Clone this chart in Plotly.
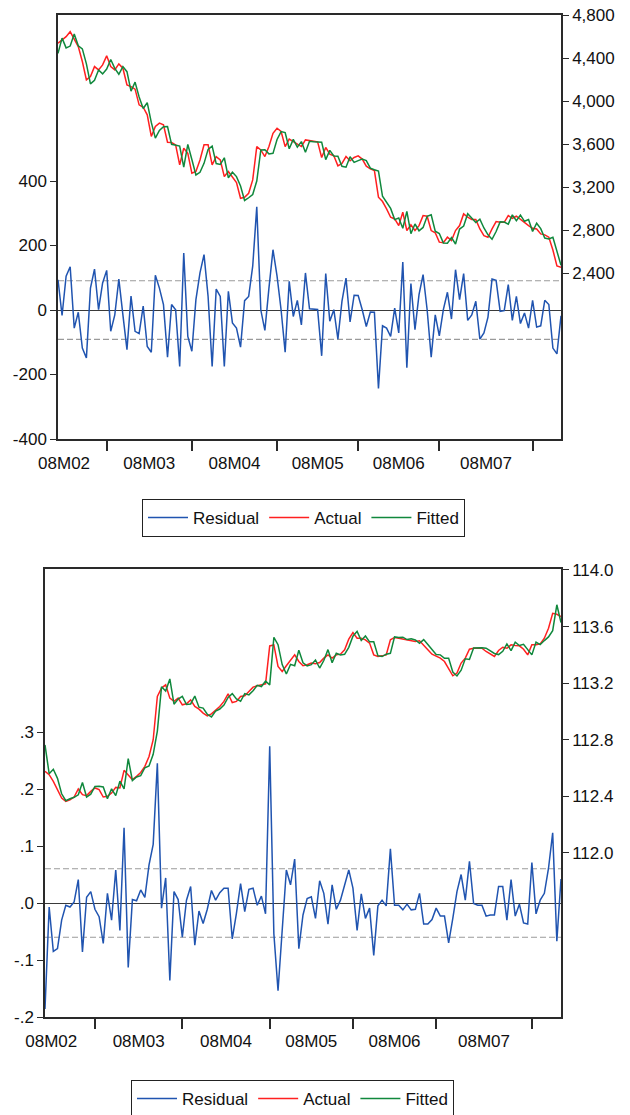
import plotly.graph_objects as go

# ---------------- data ----------------
month_labels = ["08M02", "08M03", "08M04", "08M05", "08M06", "08M07"]
month_start_idx = [12, 33, 54, 74, 94, 117]   # first observation of Mar..Aug
n_obs = 125
obs = list(range(n_obs))

# Chart 1 (index level)
resid_1 = [94, -17, 105, 134, -56, -7, -118, -149, 68, 127, 1, 84, 123, -66, -15, 96, -15, -123, 43, -66,
           -73, 12, -113, -131, 108, 68, 17, -146, 17, 1, -175, 177, -82, -128, 32, 115, 172, 42, -175, 65,
           42, -175, 58, -40, -56, -115, 29, 42, 136, 320, 0, -63, 68, 187, 105, 0, -131, 89, -20, 30,
           -46, 115, 4, 4, 2, -142, 113, -35, 1, -90, 27, 99, -37, 46, 45, 1, -51, -6, -7, -243,
           -49, -56, -82, 6, -71, 149, -179, 82, -61, 48, 110, 1, -146, -15, -80, 1, 55, -28, 125, 32,
           113, -32, -15, 27, -90, -71, -22, 96, 92, -4, -2, 79, -32, 42, -42, -9, -56, 30, -53, -49,
           30, 17, -118, -136, -18]
actual_1 = [4537, 4568, 4599, 4645, 4568, 4506, 4367, 4196, 4227, 4320, 4289, 4336, 4420, 4320, 4289, 4345,
            4305, 4150, 4134, 4110, 3964, 3942, 3871, 3670, 3763, 3794, 3778, 3617, 3614, 3592, 3406, 3561,
            3514, 3328, 3344, 3452, 3592, 3592, 3406, 3483, 3452, 3297, 3344, 3297, 3241, 3095, 3104, 3142,
            3266, 3576, 3545, 3483, 3576, 3700, 3747, 3716, 3576, 3645, 3623, 3601, 3576, 3638, 3630, 3625,
            3620, 3475, 3568, 3506, 3490, 3397, 3420, 3483, 3444, 3475, 3490, 3460, 3394, 3369, 3353, 3105,
            3065, 2997, 2919, 2903, 2841, 2965, 2795, 2848, 2795, 2841, 2934, 2928, 2795, 2774, 2687, 2681,
            2733, 2702, 2795, 2841, 2950, 2919, 2897, 2897, 2810, 2748, 2733, 2810, 2878, 2872, 2872, 2934,
            2909, 2928, 2897, 2872, 2841, 2816, 2810, 2764, 2755, 2733, 2614, 2466, 2454]
resid_sd_1 = 91

# Chart 2
resid_2 = [-0.186, -0.007, -0.085, -0.080, -0.030, -0.004, -0.007, 0.002, 0.041, -0.086,
           0.010, 0.020, -0.011, -0.024, -0.071, 0.017, -0.030, 0.058, -0.048, 0.132,
           -0.113, 0.006, 0.004, 0.023, 0.010, 0.067, 0.103, 0.245, -0.009, 0.044,
           -0.136, 0.020, 0.006, -0.060, 0.005, 0.029, -0.074, -0.014, -0.036, -0.011,
           0.022, 0.005, 0.018, 0.026, 0.026, -0.063, -0.018, 0.034, -0.015, 0.024,
           0.026, -0.004, 0.012, -0.019, 0.275, -0.054, -0.154, -0.048, 0.058, 0.032,
           0.077, -0.080, -0.021, 0.008, 0.011, -0.027, 0.039, 0.017, -0.037, 0.032,
           -0.011, 0.005, 0.032, 0.058, 0.026, -0.048, 0.016, -0.027, -0.009, -0.092,
           -0.005, 0.005, -0.005, 0.095, -0.004, -0.004, -0.012, -0.002, -0.012, -0.011,
           0.017, -0.037, -0.037, -0.029, -0.009, -0.023, -0.023, -0.070, -0.027, 0.020,
           0.050, 0.005, 0.073, -0.001, -0.004, -0.004, -0.023, -0.021, -0.021, 0.029,
           0.029, -0.030, 0.041, -0.023, -0.002, -0.035, -0.037, 0.071, -0.019, 0.005,
           0.017, 0.061, 0.123, -0.067, 0.042]
actual_2 = [112.577, 112.553, 112.506, 112.447, 112.388, 112.365, 112.376, 112.395, 112.452, 112.412,
            112.405, 112.435, 112.459, 112.447, 112.395, 112.400, 112.423, 112.463, 112.459, 112.584,
            112.553, 112.518, 112.541, 112.569, 112.612, 112.682, 112.800, 113.106, 113.165, 113.188,
            113.094, 113.071, 113.094, 113.047, 113.054, 113.082, 113.035, 113.016, 112.988, 112.969,
            112.983, 113.007, 113.035, 113.071, 113.125, 113.063, 113.071, 113.106, 113.111, 113.141,
            113.172, 113.181, 113.188, 113.195, 113.463, 113.470, 113.318, 113.283, 113.323, 113.365,
            113.400, 113.353, 113.323, 113.330, 113.342, 113.337, 113.346, 113.377, 113.400, 113.377,
            113.400, 113.405, 113.436, 113.511, 113.558, 113.518, 113.518, 113.506, 113.483, 113.400,
            113.389, 113.393, 113.400, 113.506, 113.523, 113.518, 113.513, 113.506, 113.501, 113.494,
            113.499, 113.471, 113.436, 113.405, 113.393, 113.377, 113.353, 113.306, 113.252, 113.271,
            113.342, 113.377, 113.440, 113.447, 113.447, 113.447, 113.424, 113.407, 113.389, 113.431,
            113.454, 113.447, 113.471, 113.466, 113.464, 113.440, 113.400, 113.471, 113.471, 113.478,
            113.518, 113.588, 113.694, 113.687, 113.671]
resid_sd_2 = 0.06

# fitted = actual - residual (model identity)
fitted_1 = [a - r for a, r in zip(actual_1, resid_1)]
fitted_2 = [round(a - r, 4) for a, r in zip(actual_2, resid_2)]

left_ticks_1 = [-400, -200, 0, 200, 400]
left_text_1 = ["-400", "-200", "0", "200", "400"]
right_ticks_1 = [2400, 2800, 3200, 3600, 4000, 4400, 4800]
left_ticks_2 = [-0.2, -0.1, 0.0, 0.1, 0.2, 0.3]
left_text_2 = ["-.2", "-.1", ".0", ".1", ".2", ".3"]
right_ticks_2 = [112.0, 112.4, 112.8, 113.2, 113.6, 114.0]

# ---------------- style ----------------
FONT = "Liberation Sans, Arial, sans-serif"
BLUE = "#2054b0"
RED = "#ff2020"
GREEN = "#10883c"
AXC = "#2a2a2a"
W, H = 630, 1115
LW = 1.5

label_pos = [1.5] + [(month_start_idx[k] + month_start_idx[k + 1]) / 2 for k in range(len(month_start_idx) - 1)]


def px_x(a, b):
    return [a / W, b / W]


def px_y(top, bottom):
    return [1 - bottom / H, 1 - top / H]


fig = go.Figure()


def add_panel(resid, actual, fitted, sd, xs, yls, yrs, legend):
    for s in (sd, -sd):
        fig.add_trace(go.Scatter(x=[obs[0], obs[-1]], y=[s, s], mode="lines",
                                 line=dict(color="#9a9a9a", width=1.1, dash="6px,3px"),
                                 showlegend=False, hoverinfo="skip", xaxis=xs, yaxis=yls))
    fig.add_trace(go.Scatter(x=obs, y=resid, mode="lines", name="Residual",
                             line=dict(color=BLUE, width=LW), xaxis=xs, yaxis=yls, legend=legend))
    fig.add_trace(go.Scatter(x=obs, y=actual, mode="lines", name="Actual",
                             line=dict(color=RED, width=LW), xaxis=xs, yaxis=yrs, legend=legend))
    fig.add_trace(go.Scatter(x=obs, y=fitted, mode="lines", name="Fitted",
                             line=dict(color=GREEN, width=LW), xaxis=xs, yaxis=yrs, legend=legend))


add_panel(resid_1, actual_1, fitted_1, resid_sd_1, "x", "y", "y2", "legend")
add_panel(resid_2, actual_2, fitted_2, resid_sd_2, "x2", "y3", "y4", "legend2")

tickfont = dict(family=FONT, size=17, color="#111")


def xaxis_cfg(domain, anchor):
    return dict(domain=domain, anchor=anchor, range=[obs[0], obs[-1]], automargin=False,
                showline=True, linecolor=AXC, linewidth=1.5, mirror=True,
                showgrid=False, zeroline=False, ticklabeloverflow="allow",
                tickmode="array", tickvals=label_pos, ticktext=month_labels,
                ticks="outside", ticklen=8, tickcolor="rgba(0,0,0,0)",
                tickfont=tickfont,
                minor=dict(tickmode="array", tickvals=month_start_idx, ticks="outside",
                           ticklen=10, tickwidth=1.5, tickcolor=AXC, showgrid=False))


def yleft_cfg(domain, anchor, rng, tv, tt):
    return dict(domain=domain, anchor=anchor, range=rng, automargin=False,
                showline=True, linecolor=AXC,
                linewidth=1.5, mirror=True, showgrid=False, ticklabeloverflow="allow",
                zeroline=True, zerolinecolor="#3a3a3a", zerolinewidth=1.3,
                tickmode="array", tickvals=tv, ticktext=tt,
                ticks="outside", ticklen=6, tickwidth=1.2, tickcolor=AXC, tickfont=tickfont)


def yright_cfg(overlay, anchor, rng, tv, tt):
    return dict(overlaying=overlay, anchor=anchor, side="right", range=rng, automargin=False,
                showline=True, linecolor=AXC, linewidth=1.5, showgrid=False, zeroline=False,
                ticklabeloverflow="allow",
                tickmode="array", tickvals=tv, ticktext=tt,
                ticks="outside", ticklen=6, tickwidth=1.2, tickcolor=AXC, tickfont=tickfont)


legend_common = dict(orientation="h", xanchor="left", yanchor="top",
                     bordercolor="#222", borderwidth=1, bgcolor="white",
                     font=dict(family=FONT, size=17, color="#111"),
                     itemwidth=40, tracegroupgap=0)

fig.update_layout(
    template="none",
    width=W, height=H, autosize=False,
    margin=dict(l=0, r=0, t=0, b=0, pad=0, autoexpand=False),
    paper_bgcolor="white", plot_bgcolor="white",
    font=dict(family=FONT, size=17, color="#111"),
    xaxis=xaxis_cfg(px_x(58, 561), "y"),
    yaxis=yleft_cfg(px_y(15, 439), "x", [-400, 915], left_ticks_1, left_text_1),
    yaxis2=yright_cfg("y", "x", [856, 4800], right_ticks_1, [f"{v:,}" for v in right_ticks_1]),
    xaxis2=xaxis_cfg(px_x(45, 561), "y3"),
    yaxis3=yleft_cfg(px_y(569, 1017), "x2", [-0.2, 0.586], left_ticks_2, left_text_2),
    yaxis4=yright_cfg("y3", "x2", [110.84, 114.007], right_ticks_2, [f"{v:.1f}" for v in right_ticks_2]),
    legend=dict(x=142 / W, y=1 - 499 / H, **legend_common),
    legend2=dict(x=131 / W, y=1 - 1080 / H, **legend_common),
    showlegend=True,
)

# remove the browser's default page margin so the figure fills the window exactly
fig.write_html("out.html", config={"displayModeBar": False},
               post_script="document.body.style.margin='0px';")
